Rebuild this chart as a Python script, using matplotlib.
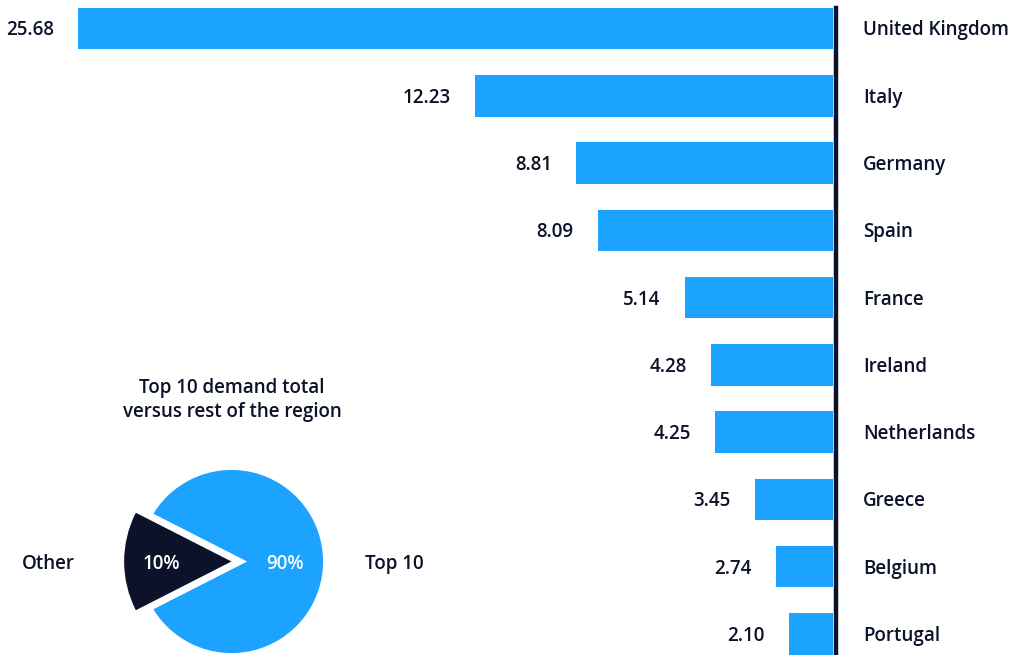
import matplotlib
matplotlib.use("Agg")
import matplotlib.pyplot as plt

countries = ["United Kingdom", "Italy", "Germany", "Spain", "France",
             "Ireland", "Netherlands", "Greece", "Belgium", "Portugal"]
# printed values next to the bars
demand = [25.68, 12.23, 8.81, 8.09, 5.14, 4.28, 4.25, 3.45, 2.74, 2.10]
# bar extents as drawn in the source picture (they do not all match the labels)
bar_len = [25.68, 12.19, 8.73, 8.00, 5.04, 4.16, 4.02, 2.66, 1.95, 1.51]

pie_names = ["Top 10", "Other"]
pie_shares = [85, 15]          # wedge sizes as drawn in the picture
pie_texts = ["90%", "10%"]

BLUE = "#1ba3ff"
NAVY = "#0b1229"
FONT = "Open Sans"
FS = 13.5

W, H = 1016, 655
fig = plt.figure(figsize=(W / 100, H / 100), dpi=100)

# --- bar panel: bars grow leftwards from the dark line ---
ax = fig.add_axes([0, 0, 835.5 / W, 1])
ax.set_facecolor("none")
ypos = list(range(len(countries)))
ax.barh(ypos, bar_len, height=0.617, color=BLUE)
ax.set_xlim(28.33, -0.085)
ax.set_ylim(9.312, -0.4236)
for s in ["top", "left", "bottom"]:
    ax.spines[s].set_visible(False)
ax.spines["right"].set_color(NAVY)
ax.spines["right"].set_linewidth(3.2)
ax.spines["right"].set_bounds(9.312, -0.31)
ax.set_xticks([]); ax.set_yticks([])

for i, (c, v, b) in enumerate(zip(countries, demand, bar_len)):
    ax.annotate(f"{v:.2f}", (b, i), xytext=(-17.3, -1.4), textcoords="offset points",
                ha="right", va="center", fontsize=FS, fontweight="semibold",
                family=FONT, color=NAVY)
    ax.annotate(c, (0, i), xytext=(21.6, -1.4), textcoords="offset points",
                ha="left", va="center", fontsize=FS, fontweight="semibold",
                family=FONT, color=NAVY, annotation_clip=False)

# --- pie inset ---
cx, cy, r = 231.5, 561.5, 98.5
pa = fig.add_axes([(cx - 1.5 * r) / W, 1 - (cy + 1.5 * r) / H, 3 * r / W, 3 * r / H])
pa.set_facecolor("none")
# 'Other' slice popped out as a larger wedge, drawn first
pa.pie(pie_shares, colors=["none", NAVY], startangle=207, radius=1.09,
       wedgeprops=dict(linewidth=0))
# main circle with a white border that opens the gap
pa.pie(pie_shares, colors=[BLUE, "none"], startangle=207, radius=1.0,
       wedgeprops=dict(edgecolor="white", linewidth=10))
# put 'Other' wedge on top of the white border of the circle
pa.patches[1].set_zorder(3)
pa.set_xlim(-1.5, 1.5); pa.set_ylim(-1.5, 1.5)
pa.set_aspect("equal")
pa.axis("off")


def px2d(x, y):
    return (x - cx) / r, (cy - y) / r


for txt, (x, y), col in [(pie_texts[0], (285, 564), "white"),
                         (pie_texts[1], (161, 564), "white"),
                         (pie_names[1], (48, 564), NAVY),
                         (pie_names[0], (394, 564), NAVY)]:
    pa.text(*px2d(x, y), txt, ha="center", va="center", fontsize=FS,
            fontweight="semibold", family=FONT, color=col, clip_on=False,
            zorder=5)

fig.text(232 / W, 1 - 400 / H, "Top 10 demand total\nversus rest of the region",
         ha="center", va="center", fontsize=FS, fontweight="semibold",
         family=FONT, color=NAVY, linespacing=1.3)

fig.savefig("out.png", dpi=100)
